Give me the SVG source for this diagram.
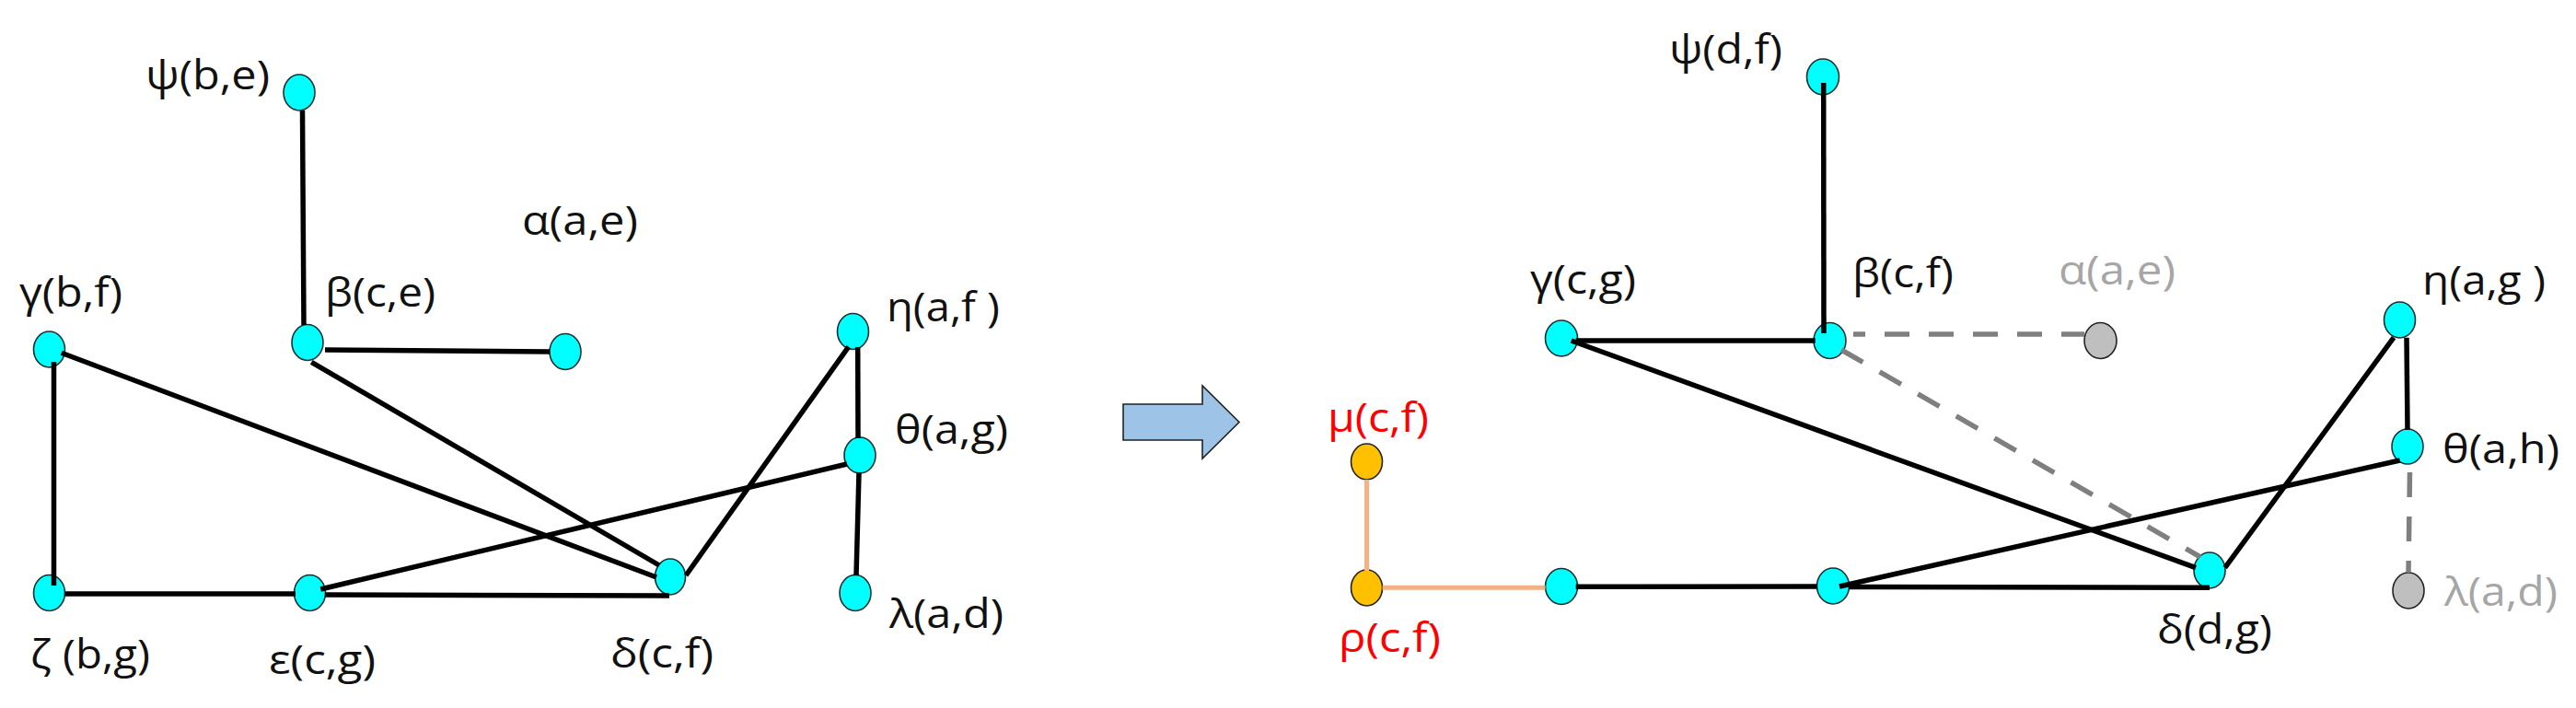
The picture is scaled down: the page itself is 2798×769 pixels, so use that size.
<svg xmlns="http://www.w3.org/2000/svg" width="2798" height="769" viewBox="0 0 2798 769">
<style>
  text { font-family: "Open Sans", "DejaVu Sans", sans-serif; font-size: 44px; fill: #111; }
  .gray-t { fill: #A6A6A6; }
  .red-t { fill: #FF0000; }
  .n { fill: #00FFFF; stroke: #1E2E2E; stroke-width: 1.6; }
  .ng { fill: #BFBFBF; stroke: #222; stroke-width: 1.6; }
  .no { fill: #FFC000; stroke: #222; stroke-width: 1.6; }
  .e { stroke: #000; stroke-width: 5.5; fill: none; }
  .eo { stroke: #F4B183; stroke-width: 5; fill: none; }
  .ed { stroke: #7F7F7F; stroke-width: 5.5; fill: none; stroke-dasharray: 27 21; }
</style>
<rect x="0" y="0" width="2798" height="769" fill="#FFFFFF"/>

<!-- LEFT GRAPH nodes -->
<g id="L-psi"><ellipse class="n" cx="325" cy="100.5" rx="17" ry="19.5"/><text x="158" y="97" textLength="135" lengthAdjust="spacingAndGlyphs">ψ(b,e)</text></g>
<g id="L-alpha"><ellipse class="n" cx="614" cy="382" rx="17" ry="19.5"/><text x="567" y="255" textLength="126" lengthAdjust="spacingAndGlyphs">α(a,e)</text></g>
<g id="L-gamma"><ellipse class="n" cx="53.5" cy="379.5" rx="17" ry="19.5"/><text x="21" y="333" textLength="112" lengthAdjust="spacingAndGlyphs">γ(b,f)</text></g>
<g id="L-beta"><ellipse class="n" cx="334" cy="372" rx="17" ry="19.5"/><text x="353" y="333" textLength="120" lengthAdjust="spacingAndGlyphs">β(c,e)</text></g>
<g id="L-eta"><ellipse class="n" cx="926.5" cy="360" rx="17" ry="19.5"/><text x="963" y="348.5" textLength="123" lengthAdjust="spacingAndGlyphs">η(a,f )</text></g>
<g id="L-theta"><ellipse class="n" cx="934" cy="494.5" rx="17" ry="19.5"/><text x="972" y="482" textLength="123" lengthAdjust="spacingAndGlyphs">θ(a,g)</text></g>
<g id="L-lambda"><ellipse class="n" cx="929" cy="644" rx="17" ry="19.5"/><text x="966" y="682" textLength="124" lengthAdjust="spacingAndGlyphs">λ(a,d)</text></g>
<g id="L-zeta"><ellipse class="n" cx="53.5" cy="644" rx="17" ry="19.5"/><text x="33" y="726" textLength="130" lengthAdjust="spacingAndGlyphs">ζ (b,g)</text></g>
<g id="L-epsilon"><ellipse class="n" cx="336.5" cy="644" rx="17" ry="19.5"/><text x="292" y="732" textLength="116" lengthAdjust="spacingAndGlyphs">ε(c,g)</text></g>
<g id="L-delta"><ellipse class="n" cx="728" cy="626.5" rx="16.5" ry="19.5"/><text x="663" y="725" textLength="112" lengthAdjust="spacingAndGlyphs">δ(c,f)</text></g>

<!-- Arrow -->
<g id="arrow"><polygon points="1220,439 1306,439 1306,419 1346,458.5 1306,498 1306,478 1220,478" fill="#9DC3E6" stroke="#222" stroke-width="1.6"/></g>

<!-- RIGHT GRAPH nodes -->
<g id="R-psi"><ellipse class="n" cx="1980" cy="83.5" rx="17.5" ry="19.5"/><text x="1813" y="69" textLength="123" lengthAdjust="spacingAndGlyphs">ψ(d,f)</text></g>
<g id="R-gamma"><ellipse class="n" cx="1696" cy="367.5" rx="17.5" ry="19.5"/><text x="1662" y="318.5" textLength="115" lengthAdjust="spacingAndGlyphs">γ(c,g)</text></g>
<g id="R-beta"><ellipse class="n" cx="1987.5" cy="370" rx="17.5" ry="19.5"/><text x="2012" y="312" textLength="110" lengthAdjust="spacingAndGlyphs">β(c,f)</text></g>
<g id="R-alpha"><ellipse class="ng" cx="2281.5" cy="370" rx="17.5" ry="19.5"/><text class="gray-t" x="2236" y="309" textLength="127" lengthAdjust="spacingAndGlyphs">α(a,e)</text></g>
<g id="R-eta"><ellipse class="n" cx="2606.5" cy="347.5" rx="17" ry="19.5"/><text x="2631" y="320" textLength="134" lengthAdjust="spacingAndGlyphs">η(a,g )</text></g>
<g id="R-theta"><ellipse class="n" cx="2615" cy="485" rx="17" ry="19"/><text x="2653" y="503" textLength="127" lengthAdjust="spacingAndGlyphs">θ(a,h)</text></g>
<g id="R-lambda"><ellipse class="ng" cx="2616" cy="641.5" rx="17" ry="19.5"/><text class="gray-t" x="2655" y="658" textLength="123" lengthAdjust="spacingAndGlyphs">λ(a,d)</text></g>
<g id="R-mu"><ellipse class="no" cx="1484.5" cy="501.5" rx="17" ry="19.5"/><text class="red-t" x="1442" y="469" textLength="110" lengthAdjust="spacingAndGlyphs">μ(c,f)</text></g>
<g id="R-rho"><ellipse class="no" cx="1484.5" cy="638.5" rx="17" ry="19.5"/><text class="red-t" x="1454" y="708" textLength="111" lengthAdjust="spacingAndGlyphs">ρ(c,f)</text></g>
<g id="R-n1"><ellipse class="n" cx="1696" cy="637" rx="17.5" ry="19.5"/></g>
<g id="R-epsilon"><ellipse class="n" cx="1991" cy="636.5" rx="17.5" ry="19.5"/></g>
<g id="R-delta"><ellipse class="n" cx="2400" cy="619.5" rx="17" ry="19.5"/><text x="2343" y="699" textLength="125" lengthAdjust="spacingAndGlyphs">δ(d,g)</text></g>

<!-- Connectors -->
<g id="connectors">
  <!-- left -->
  <line class="e" x1="328.5" y1="120" x2="330" y2="353"/>
  <line class="e" x1="353" y1="380" x2="597" y2="382"/>
  <line class="e" x1="58.5" y1="393" x2="58.5" y2="636"/>
  <line class="e" x1="66.7" y1="383.3" x2="713" y2="627"/>
  <line class="e" x1="338.3" y1="393.3" x2="716" y2="614"/>
  <line class="e" x1="70.5" y1="645" x2="321" y2="645"/>
  <line class="e" x1="353" y1="646" x2="727" y2="647"/>
  <line class="e" x1="348.3" y1="640" x2="920" y2="504"/>
  <line class="e" x1="745" y1="625" x2="921.7" y2="376.7"/>
  <line class="e" x1="931.7" y1="377" x2="932" y2="476"/>
  <line class="e" x1="933" y1="513" x2="930" y2="625"/>
  <!-- right -->
  <line class="e" x1="1980.7" y1="90" x2="1981" y2="362"/>
  <line class="e" x1="1711.7" y1="370" x2="1971.7" y2="370"/>
  <line class="e" x1="1706.7" y1="370" x2="2385" y2="616.7"/>
  <line class="eo" x1="1484.5" y1="521" x2="1484.5" y2="620"/>
  <line class="eo" x1="1501.5" y1="638.3" x2="1678.5" y2="638.3"/>
  <line class="e" x1="1711.7" y1="637.3" x2="1974" y2="637"/>
  <line class="e" x1="2008" y1="637.5" x2="2400" y2="638.3"/>
  <line class="e" x1="1998" y1="637" x2="2606.7" y2="500"/>
  <line class="e" x1="2416.7" y1="616.7" x2="2600" y2="366.7"/>
  <line class="e" x1="2614" y1="366.7" x2="2615" y2="466.7"/>
  <line class="ed" x1="2013" y1="363" x2="2264" y2="363" stroke-dashoffset="14"/>
  <line class="ed" x1="2000" y1="380" x2="2390" y2="605"/>
  <line class="ed" x1="2617.5" y1="513" x2="2616" y2="622"/>
</g>
</svg>
